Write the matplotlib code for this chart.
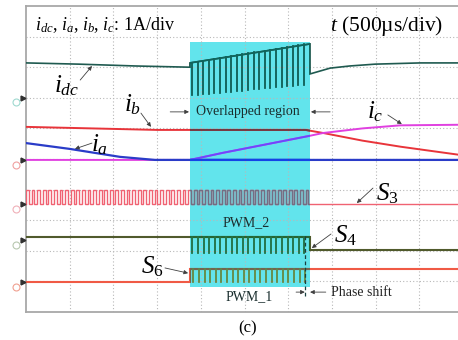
import numpy as np
import matplotlib.pyplot as plt
from matplotlib.colors import to_rgb
from matplotlib.patches import Rectangle

plt.rcParams['font.family'] = ['Liberation Serif', 'DejaVu Serif']
plt.rcParams['mathtext.fontset'] = 'custom'
plt.rcParams['mathtext.rm'] = 'Liberation Serif'
plt.rcParams['mathtext.it'] = 'Liberation Serif:italic'

# all values in scope divisions (x: 500us/div, y: 1 div)
idc_t = [0, 1.2, 2.5, 3.75]
idc_v = [8.14, 8.10, 8.04, 8.00]
idc_t2 = [6.5, 6.96, 7.41, 7.99, 9.02, 10]
idc_v2 = [7.78, 7.97, 8.04, 8.10, 8.14, 8.14]
idc_top = [8.14, 8.76]      # ripple top at start / end of overlap
idc_tip = [7.09, 7.42]      # spike bottom at start / end of overlap

ib_t = [0, 3.0, 6.4, 6.8, 7.7, 8.58, 10]
ib_v = [6.05, 5.95, 5.95, 5.85, 5.6, 5.4, 5.12]
ia_t = [0, 1.0, 2.15, 2.95, 10]
ia_v = [5.52, 5.33, 5.07, 4.97, 4.97]
ic_t = [0, 3.75, 4.5, 5.5, 6.5, 6.8, 7.7, 8.56, 10]
ic_v = [4.97, 4.97, 5.2, 5.48, 5.76, 5.85, 6.0, 6.1, 6.12]

s3_levels = [3.99, 3.53]        # high, low
s4_levels = [2.45, 1.93, 2.03]  # high, pulse tip, low after overlap
s6_levels = [1.42, 0.98]        # high, low
t_sw = 0.128                    # switching period
overlap = [3.75, 6.5]
region_y = [0.82, 8.82]
ch_marks = [7.0, 4.97, 3.53, 2.35, 0.98]
ch_colors = ['#9fd9d0', '#f0a0a0', '#f0b0b8', '#b8c8b0', '#f0a090']

cyan = '#62e4ec'

fig = plt.figure(figsize=(4.58, 3.40), dpi=100)
ax = fig.add_axes([26 / 458, 28 / 340, 437 / 458, 306 / 340])
ax.set_xlim(0, 10)
ax.set_ylim(0, 10)
ax.set_xticks([])
ax.set_yticks([])
for s in ax.spines.values():
    s.set_color('#a8a8a8')
    s.set_linewidth(1.3)

region = Rectangle((overlap[0], region_y[0]), overlap[1] - overlap[0],
                   region_y[1] - region_y[0], facecolor=cyan, edgecolor='none', zorder=1)
ax.add_patch(region)

for k in range(1, 10):
    ax.axvline(k, color='#b8b8b8', lw=0.8, ls=(0, (1, 2)), zorder=2)
    ax.axhline(k, color='#b8b8b8', lw=0.8, ls=(0, (1, 2)), zorder=2)

mult = np.array(to_rgb(cyan))


def trace(x, y, color, lw=1.4):
    ax.plot(x, y, color=color, lw=lw, zorder=3, solid_joinstyle='miter')
    dark = np.clip(np.array(to_rgb(color)) * mult * 1.25, 0, 1)
    ln, = ax.plot(x, y, color=tuple(dark), lw=lw, zorder=4)
    ln.set_clip_path(region)


def spikes(t0, t1, base, tip, color, lw=0.9):
    starts = np.arange(t0, t1, t_sw)
    n = max(len(starts) - 1, 1)
    for i, t in enumerate(starts):
        f = i / n
        b = base[0] + (base[-1] - base[0]) * f
        p = tip[0] + (tip[-1] - tip[0]) * f
        trace([t, t], [b, p], color, lw)


# idc
trace(idc_t + [overlap[0], overlap[1], overlap[1]] + idc_t2,
      idc_v + [idc_top[0], idc_top[1], idc_v2[0]] + idc_v2, '#1f5a50', 1.2)
spikes(overlap[0] + 0.05, overlap[1] - 0.05, idc_top, idc_tip, '#1f5a50', 1.1)
trace(ib_t, ib_v, '#e8343a')
trace(ic_t, ic_v, '#e040e0')
trace(ia_t, ia_v, '#2a3cc8', 1.6)

# S3 square wave
sx, sy = [], []
for t in np.arange(0, overlap[1], t_sw):
    sx += [t, t, t + t_sw / 2, t + t_sw / 2]
    sy += [s3_levels[1], s3_levels[0], s3_levels[0], s3_levels[1]]
trace(sx + [10], sy + [s3_levels[1]], '#f06272', 1.0)

# S4
trace([0, overlap[1], overlap[1], 10],
      [s4_levels[0], s4_levels[0], s4_levels[2], s4_levels[2]], '#505a2c', 1.5)
spikes(overlap[0] + 0.06, overlap[1] - 0.03, [s4_levels[0]], [s4_levels[1]], '#3c6a40', 1.1)

# S6
trace([0, overlap[0], overlap[0], 10],
      [s6_levels[1], s6_levels[1], s6_levels[0], s6_levels[0]], '#f05a45', 1.5)
spikes(overlap[0] + 0.08, overlap[1] - 0.1, [s6_levels[0]], [s6_levels[1]], '#b08040', 1.1)

# channel markers on the left
for y, c in zip(ch_marks, ch_colors):
    ax.plot(-0.07, y, marker='>', ms=3.5, color='#303030', clip_on=False, zorder=5)
    ax.plot(-0.22, y - 0.15, marker='o', ms=5, mfc='none', mec=c, mew=0.8,
            clip_on=False, zorder=5)

# texts
ax.text(0.2, 9.38, r'$i_{dc}$, $i_a$, $i_b$, $i_c$: 1A/div', fontsize=13,
        va='center', ha='left', zorder=6)
ax.text(6.96, 9.36, r'$t$ (500µs/div)', fontsize=15.5, va='center', ha='left', zorder=6)

big = dict(fontsize=18, ha='center', va='center', zorder=6)
ax.text(0.92, 7.39, r'$i_{dc}$', **big)
ax.text(2.45, 6.76, r'$i_b$', **big)
ax.text(1.69, 5.46, r'$i_a$', **big)
ax.text(8.0, 6.54, r'$i_c$', **big)
ax.text(8.26, 3.85, r'$S_3$', **big)
ax.text(7.3, 2.5, r'$S_4$', **big)
ax.text(2.88, 1.47, r'$S_6$', **big)

arr = dict(arrowstyle='-|>', color='#404040', lw=0.6, mutation_scale=6, shrinkA=0, shrinkB=0)
for a, b in [((1.24, 7.58), (1.51, 8.04)), ((2.63, 6.5), (2.86, 6.05)),
             ((1.51, 5.52), (1.12, 5.33)), ((8.28, 6.44), (8.6, 6.14)),
             ((7.94, 4.05), (7.57, 3.56)), ((6.98, 2.55), (6.54, 2.09)),
             ((3.18, 1.44), (3.71, 1.27)), ((3.3, 6.54), (3.73, 6.54)),
             ((6.96, 6.54), (6.52, 6.54)), ((6.18, 0.65), (6.38, 0.65)),
             ((6.86, 0.65), (6.5, 0.65))]:
    ax.annotate('', xy=b, xytext=a, arrowprops=arr, zorder=6)

small = dict(fontsize=10, ha='center', va='center', color='#1a2e2e', zorder=6)
ax.text(5.08, 6.54, 'Overlapped region', **small)
ax.text(5.03, 2.91, 'PWM_2', **small)
ax.text(5.1, 0.49, 'PWM_1', **small)
ax.text(6.98, 0.65, 'Phase shift', fontsize=10, ha='left', va='center', color='#222222')
ax.plot([6.38, 6.38], [2.48, 0.49], color='#1a4040', lw=0.9, ls=(0, (3, 2)), zorder=5)
ax.text(5.06, -0.52, '(c)', fontsize=12, ha='center', va='center', clip_on=False)

fig.savefig('out.png', dpi=100)
